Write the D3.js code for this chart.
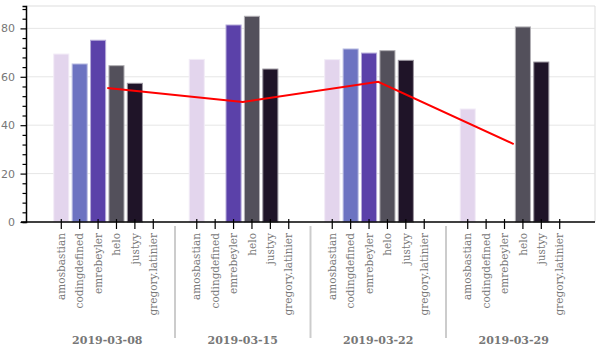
<!DOCTYPE html>
<html>
<head>
<meta charset="utf-8">
<script src="https://cdn.jsdelivr.net/npm/d3@7"></script>
<style>
  body { margin: 0; background: #fff; }
</style>
</head>
<body>
<div id="chart"></div>
<script>
// Weeks and users shown on the chart
const dates = ["2019-03-08", "2019-03-15", "2019-03-22", "2019-03-29"];
const users = ["amosbastian", "codingdefined", "emrebeyler", "helo", "justyy", "gregory.latinier"];

// One value per week for each user (null = no bar)
const amosbastian = [69.4, 67.2, 67.1, 46.7];
const codingdefined = [65.3, null, 71.5, null];
const emrebeyler = [75.1, 81.4, 69.8, null];
const helo = [64.6, 85.0, 70.8, 80.6];
const justyy = [57.3, 63.2, 66.8, 66.1];
const gregoryLatinier = [null, null, null, null];

// Red line, one point per week
const lineValues = [55.4, 49.6, 57.9, 32.2];

const userColors = ["#e3d5ed", "#6c73c1", "#5b41a9", "#53505b", "#1f1428", "#9e9ac8"];

const seriesByUser = [amosbastian, codingdefined, emrebeyler, helo, justyy, gregoryLatinier];

const width = 600, height = 350;
const margin = {top: 6, right: 5, bottom: 128, left: 26};
const innerW = width - margin.left - margin.right;
const innerH = height - margin.top - margin.bottom;

const svg = d3.select("#chart")
    .append("svg")
    .attr("width", width)
    .attr("height", height)
  .append("g")
    .attr("transform", `translate(${margin.left},${margin.top})`);

// Scales
const maxVal = d3.max(seriesByUser.flat().filter(v => v != null));
const y = d3.scaleLinear()
    .domain([0, maxVal * 1.05])
    .range([innerH, 0]);

const x0 = d3.scaleBand()
    .domain(dates)
    .range([0, innerW])
    .paddingInner(0)
    .paddingOuter(0.1);

const x1 = d3.scaleBand()
    .domain(users)
    .range([0, x0.bandwidth()])
    .paddingInner(0.18)
    .paddingOuter(0.772);

// Frame on top and right
svg.append("line")
    .attr("x1", 0).attr("x2", innerW)
    .attr("y1", 0).attr("y2", 0)
    .attr("stroke", "#dddddd");
svg.append("line")
    .attr("x1", innerW).attr("x2", innerW)
    .attr("y1", 0).attr("y2", innerH)
    .attr("stroke", "#dddddd");

// Grid lines
svg.append("g")
  .selectAll("line")
  .data([20, 40, 60, 80])
  .join("line")
    .attr("x1", 0).attr("x2", innerW)
    .attr("y1", d => y(d)).attr("y2", d => y(d))
    .attr("stroke", "#e6e6e6");

// Flatten into bar records
const bars = [];
dates.forEach((date, i) => {
    users.forEach((u, j) => {
        const v = seriesByUser[j][i];
        if (v != null) bars.push({date, user: u, value: v, color: userColors[j]});
    });
});

svg.append("g")
  .selectAll("rect")
  .data(bars)
  .join("rect")
    .attr("x", d => x0(d.date) + x1(d.user))
    .attr("y", d => y(d.value))
    .attr("width", x1.bandwidth())
    .attr("height", d => innerH - y(d.value))
    .attr("fill", d => d.color)
    .attr("stroke", d => d3.interpolateRgb(d.color, "#ffffff")(0.55))
    .attr("stroke-width", 1);

// Y axis
const yTicks = d3.range(0, maxVal * 1.05, 4);
const yAxis = svg.append("g")
    .call(d3.axisLeft(y)
        .tickValues(yTicks)
        .tickSize(3.5)
        .tickSizeOuter(3.5)
        .tickFormat(d => d % 20 === 0 ? d : ""));
yAxis.select(".domain").attr("stroke", "#000").attr("stroke-width", 1.5);
yAxis.selectAll(".tick line").attr("stroke", "#000").attr("stroke-width", 1.2);
yAxis.selectAll(".tick").filter(d => d % 20 === 0)
    .select("line").attr("x2", -5.5);
yAxis.selectAll(".tick text")
    .attr("x", -11)
    .attr("fill", "#777")
    .attr("font-size", 11)
    .attr("font-family", "DejaVu Sans, sans-serif");

// X axis baseline
svg.append("line")
    .attr("x1", -5).attr("x2", innerW)
    .attr("y1", innerH).attr("y2", innerH)
    .attr("stroke", "#000")
    .attr("stroke-width", 1.5);

// Category ticks and labels inside each week
const cat = svg.append("g")
  .selectAll("g")
  .data(dates.flatMap(d => users.map(u => ({date: d, user: u}))))
  .join("g")
    .attr("transform", d => `translate(${x0(d.date) + x1(d.user) + x1.bandwidth() / 2},${innerH})`);
cat.append("line")
    .attr("y1", -3).attr("y2", 7)
    .attr("stroke", "#000")
    .attr("stroke-width", 1.2);
cat.append("text")
    .attr("transform", "translate(0,11) rotate(-90)")
    .attr("dy", "0.35em")
    .attr("text-anchor", "end")
    .attr("fill", "#777")
    .attr("font-size", 10.5)
    .attr("font-family", "DejaVu Serif, serif")
    .text(d => d.user);

// Separators between weeks
svg.append("g")
  .selectAll("line")
  .data(dates.slice(1))
  .join("line")
    .attr("x1", d => x0(d)).attr("x2", d => x0(d))
    .attr("y1", innerH + 4).attr("y2", innerH + 116)
    .attr("stroke", "#cccccc")
    .attr("stroke-width", 2);

// Week labels
svg.append("g")
  .selectAll("text")
  .data(dates)
  .join("text")
    .attr("x", d => x0(d) + x0.bandwidth() / 2)
    .attr("y", innerH + 122)
    .attr("text-anchor", "middle")
    .attr("fill", "#777")
    .attr("font-size", 11)
    .attr("font-weight", "bold")
    .attr("font-family", "DejaVu Serif, serif")
    .text(d => d);

// Red line over the bars
const line = d3.line()
    .x((d, i) => x0(dates[i]) + x0.bandwidth() / 2)
    .y(d => y(d));
svg.append("path")
    .datum(lineValues)
    .attr("fill", "none")
    .attr("stroke", "#ff0000")
    .attr("stroke-width", 2)
    .attr("d", line);
</script>
</body>
</html>
